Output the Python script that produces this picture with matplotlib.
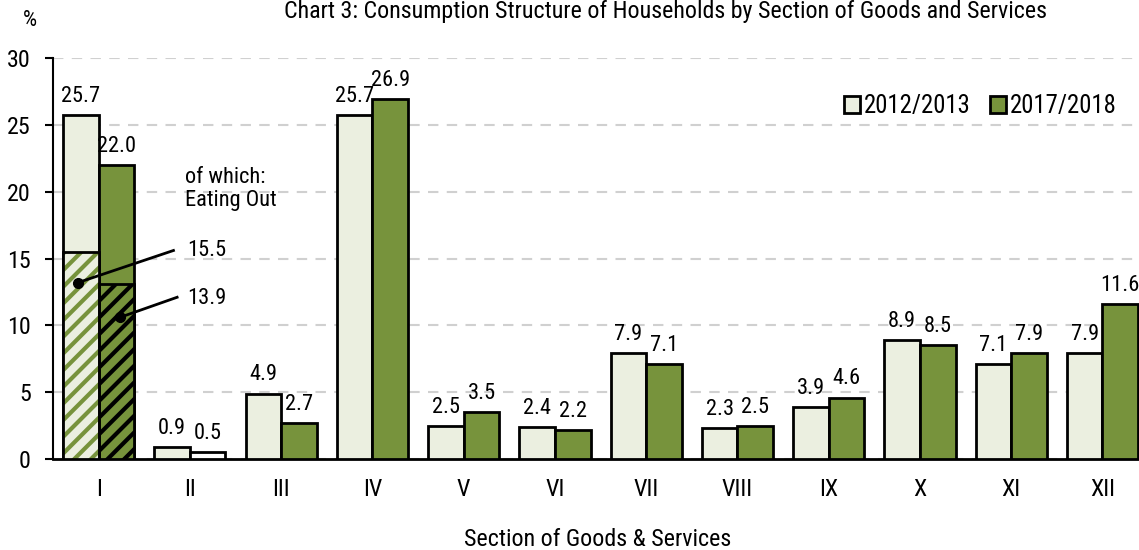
import matplotlib.pyplot as plt
import matplotlib.font_manager as fm
import numpy as np

# look for a narrow face like the original (Arial Narrow look)
fam, stretch, narrow = 'Liberation Sans', 'normal', False
fonts = fm.fontManager.ttflist
if any(f.name == 'Liberation Sans Narrow' for f in fonts):
    fam, narrow = 'Liberation Sans Narrow', True
else:
    for name in ['Roboto Condensed', 'Noto Sans', 'Roboto', 'Open Sans']:
        if any(f.name == name and f.stretch in ('condensed', 'semi-condensed', 500, 400) and
               'ondensed' in f.fname for f in fonts):
            fam, stretch, narrow = name, 'condensed', True
            break
plt.rcParams['font.family'] = [fam, 'DejaVu Sans']
plt.rcParams['font.stretch'] = stretch
plt.rcParams['hatch.linewidth'] = 3.0
k = 1.15 if narrow else 1.0

# data
sections = ['I', 'II', 'III', 'IV', 'V', 'VI', 'VII', 'VIII', 'IX', 'X', 'XI', 'XII']
y2012 = [25.7, 0.9, 4.9, 25.7, 2.5, 2.4, 7.9, 2.3, 3.9, 8.9, 7.1, 7.9]
y2017 = [22.0, 0.5, 2.7, 26.9, 3.5, 2.2, 7.1, 2.5, 4.6, 8.5, 7.9, 11.6]
eating_out = [15.5, 13.1]
eating_out_labels = ['15.5', '13.9']

light = '#EBEFE0'
green = '#77933C'

fig = plt.figure(figsize=(11.39, 5.5), dpi=100)
ax = fig.add_axes([53 / 1139, 1 - 459 / 550, 1 - 53 / 1139, (459 - 58) / 550])

x = np.arange(len(sections))
w = 0.39
c17 = [green] * len(sections)
c17[1] = 'white'
ax.bar(x - w / 2, y2012, w, color=light, edgecolor='black', linewidth=2, zorder=3, label='2012/2013')
ax.bar(x + w / 2, y2017, w, color=c17, edgecolor='black', linewidth=2, zorder=3, label='2017/2018')

# hatched eating-out parts of section I
ax.bar(-w / 2, eating_out[0], w, color=light, edgecolor=green, hatch='//', linewidth=0, zorder=4)
ax.bar(-w / 2, eating_out[0], w, fill=False, edgecolor='black', linewidth=2, zorder=5)
ax.bar(w / 2, eating_out[1], w, color=green, edgecolor='black', hatch='//', linewidth=2, zorder=4)

for i in range(len(sections)):
    ax.text(x[i] - w / 2, y2012[i] + 0.6, f'{y2012[i]:.1f}', ha='center', va='bottom', fontsize=14 * k)
    ax.text(x[i] + w / 2, y2017[i] + 0.6, f'{y2017[i]:.1f}', ha='center', va='bottom', fontsize=14 * k)

# annotations
ax.text(0.95, 20.2, 'of which:\nEating Out', ha='left', va='center', fontsize=14 * k, linespacing=1.1)
ax.plot([-0.225, 0.82], [13.2, 15.6], color='black', lw=2, zorder=6)
ax.plot([0.235, 0.86], [10.6, 12.1], color='black', lw=2, zorder=6)
ax.plot([-0.225, 0.235], [13.2, 10.6], 'o', color='black', ms=7, zorder=6)
ax.text(0.97, 15.6, eating_out_labels[0], ha='left', va='center', fontsize=14 * k)
ax.text(0.97, 12.0, eating_out_labels[1], ha='left', va='center', fontsize=14 * k)

ax.set_xlim(-0.5, 11.4)
ax.set_ylim(0, 30)
ax.set_yticks(range(0, 31, 5))
ax.set_xticks(x)
ax.set_xticklabels(sections)
ax.tick_params(axis='x', length=0, pad=14, labelsize=15 * k)
ax.tick_params(axis='y', length=6, width=1.5, direction='out', pad=10, labelsize=15 * k)
ax.grid(axis='y', color='#D0D0D0', linestyle=(0, (5, 4)), linewidth=1.5, zorder=0)
for s in ['top', 'right']:
    ax.spines[s].set_visible(False)
ax.spines['left'].set_linewidth(1.5)
ax.spines['bottom'].set_linewidth(2)

leg = ax.legend(loc='upper right', bbox_to_anchor=(1.0, 0.965), frameon=False, ncol=2, fontsize=15.5 * k,
                handlelength=0.65, handleheight=0.65, handletextpad=0.15, columnspacing=0.8)

fig.text(30 / 1139, 1 - 20 / 550, '%', ha='center', va='center', fontsize=14 * k)
fig.text(665 / 1139, 1.0, 'Chart 3: Consumption Structure of Households by Section of Goods and Services',
         ha='center', va='top', fontsize=15 * k)
fig.text(598 / 1139, 1 - 540 / 550, 'Section of Goods & Services', ha='center', va='center', fontsize=15 * k)

fig.savefig('out.png', dpi=100)
